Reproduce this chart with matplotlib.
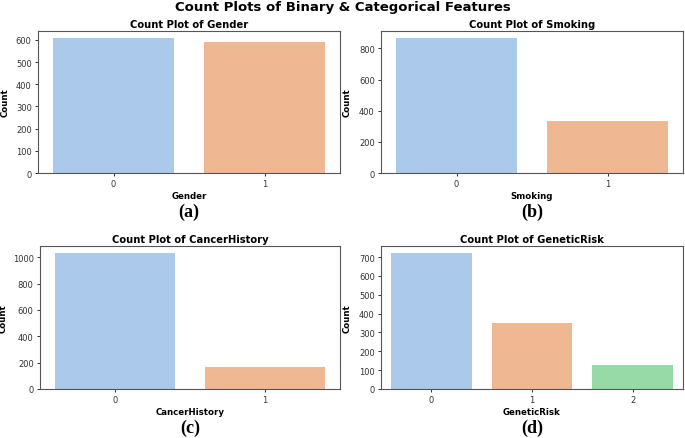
import numpy as np
import matplotlib.pyplot as plt
import seaborn as sns

# counts
gender_cats = ['0', '1']
gender_counts = [610, 590]
smoking_cats = ['0', '1']
smoking_counts = [868, 332]
cancer_cats = ['0', '1']
cancer_counts = [1033, 167]
genetic_cats = ['0', '1', '2']
genetic_counts = [723, 351, 126]

features = ['Gender', 'Smoking', 'CancerHistory', 'GeneticRisk']
panel_labels = ['(a)', '(b)', '(c)', '(d)']
all_cats = [gender_cats, smoking_cats, cancer_cats, genetic_cats]
all_counts = [gender_counts, smoking_counts, cancer_counts, genetic_counts]
y_steps = [100, 200, 200, 100]

colors = sns.color_palette('pastel', 3, desat=0.75)

fig = plt.figure(figsize=(6.85, 4.39), dpi=100)
fig.text(0.5, 1 - 8 / 439, 'Count Plots of Binary & Categorical Features',
         fontsize=9.5, fontweight='bold', ha='center', va='center')

# axes boxes in pixels (left, top, right, bottom) and ylabel x position
W, H = 685, 439
boxes = [(38, 32, 340, 174), (381, 32, 683, 174),
         (40, 247, 340, 390), (381, 247, 683, 390)]
ylabel_x = [10, 352, 8, 352]

for i in range(4):
    l, t, r, b = boxes[i]
    ax = fig.add_axes([l / W, 1 - b / H, (r - l) / W, (b - t) / H])
    x = np.arange(len(all_cats[i]))
    ax.bar(x, all_counts[i], 0.8, color=colors[:len(x)])
    ax.set_xticks(x)
    ax.set_xticklabels(all_cats[i])
    ax.set_xlim(-0.5, len(x) - 0.5)
    ax.yaxis.set_major_locator(plt.MultipleLocator(y_steps[i]))
    ax.tick_params(labelsize=6, length=2.5, width=0.7, pad=2, colors='#333333')
    ax.set_title('Count Plot of ' + features[i], fontsize=7.2, fontweight='bold', pad=3)
    ax.set_xlabel(features[i], fontsize=6.2, fontweight='bold', labelpad=2)
    ax.set_ylabel('Count', fontsize=6.2, fontweight='bold')
    ax.yaxis.set_label_coords(ylabel_x[i] / W, 1 - (t + b) / 2 / H, transform=fig.transFigure)
    for s in ax.spines.values():
        s.set_color('#555555')
        s.set_linewidth(0.8)
    # panel letter below each plot
    ax.text(0.5, 1 - (b + 38 - t) / (b - t), panel_labels[i], transform=ax.transAxes,
            ha='center', va='center', fontsize=13, fontweight='bold',
            family='Liberation Serif')

fig.savefig('out.png', dpi=100)
